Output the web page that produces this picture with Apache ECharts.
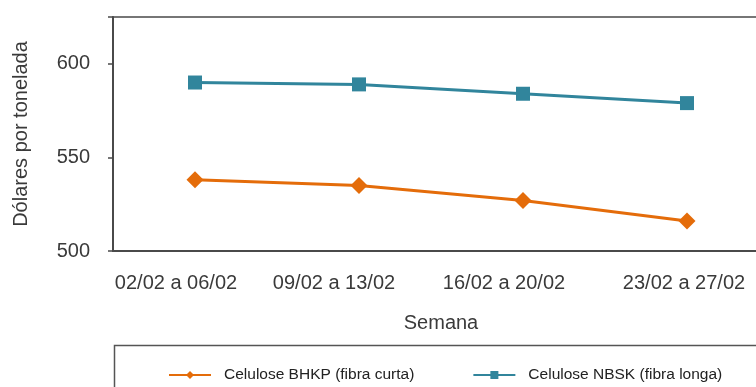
<!DOCTYPE html>
<html>
<head>
<meta charset="utf-8">
<script src="https://cdn.jsdelivr.net/npm/echarts@6/dist/echarts.min.js"></script>
<style>
  html, body { margin: 0; padding: 0; background: #fff; }
  #chart { width: 756px; height: 387px; }
</style>
</head>
<body>
<div id="chart"></div>
<script>
// Weekly pulp prices, US$ per tonne
const semanas = ['02/02 a 06/02', '09/02 a 13/02', '16/02 a 20/02', '23/02 a 27/02'];
const bhkp = [538, 535, 527, 516];
const nbsk = [590, 589, 584, 579];
const nomeBhkp = 'Celulose BHKP (fibra curta)';
const nomeNbsk = 'Celulose NBSK (fibra longa)';

const corBhkp = '#E46C0A';
const corNbsk = '#31859C';
const corTexto = '#3a3a3a';
const fonte = '"Liberation Sans", Arial, sans-serif';

// small per-label shifts for the week labels
const labelPad = [38, 50, 38, 6];
const rich = {};
labelPad.forEach((p, i) => {
  rich['w' + i] = { fontFamily: fonte, fontSize: 20, color: corTexto, padding: [0, p, 0, 0] };
});

const chart = echarts.init(document.getElementById('chart'), null, { renderer: 'canvas' });
chart.setOption({
  animation: false,
  backgroundColor: '#fff',
  grid: {
    left: 113, top: 17, width: 656, height: 234,
    outerBoundsMode: 'none',
    containLabel: false,
    show: true, borderColor: '#4a4a4a', borderWidth: 1.5, backgroundColor: 'transparent'
  },
  xAxis: {
    type: 'category',
    data: semanas,
    boundaryGap: true,
    name: 'Semana',
    nameLocation: 'middle',
    nameGap: 62,
    nameTextStyle: { fontFamily: fonte, fontSize: 20, color: corTexto },
    axisLine: { show: true, lineStyle: { color: '#4a4a4a', width: 2 } },
    axisTick: { show: false },
    axisLabel: {
      margin: 22,
      formatter: (v, i) => '{w' + i + '|' + v + '}',
      rich: rich
    },
    splitLine: { show: false }
  },
  yAxis: {
    type: 'value',
    min: 500, max: 625, interval: 50,
    name: 'Dólares por tonelada',
    nameLocation: 'middle',
    nameGap: 82,
    nameRotate: 90,
    nameTextStyle: { fontFamily: fonte, fontSize: 20, color: corTexto },
    axisLine: { show: true, lineStyle: { color: '#4a4a4a', width: 2 } },
    axisTick: { show: true, length: 5, lineStyle: { color: '#4a4a4a', width: 1.5 } },
    axisLabel: {
      margin: 23,
      fontFamily: fonte, fontSize: 20, color: corTexto,
      formatter: v => (v === 625 ? '' : String(v))
    },
    splitLine: { show: false }
  },
  legend: {
    left: 163, top: 362,
    itemWidth: 42, itemHeight: 10,
    itemGap: 58,
    textStyle: { fontFamily: fonte, fontSize: 15.5, color: '#222', padding: [0, 0, 0, 8] },
    data: [nomeBhkp, nomeNbsk]
  },
  graphic: [{
    type: 'rect',
    shape: { x: 114.5, y: 345.5, width: 700, height: 100 },
    style: { fill: 'none', stroke: '#555', lineWidth: 1.5 },
    silent: true
  }],
  series: [{
    name: nomeBhkp,
    type: 'line',
    data: bhkp,
    symbol: 'diamond',
    symbolSize: 17,
    color: corBhkp,
    lineStyle: { width: 3, color: corBhkp },
    itemStyle: { color: corBhkp }
  }, {
    name: nomeNbsk,
    type: 'line',
    data: nbsk,
    symbol: 'rect',
    symbolSize: 14,
    color: corNbsk,
    lineStyle: { width: 3, color: corNbsk },
    itemStyle: { color: corNbsk }
  }]
});
</script>
</body>
</html>
